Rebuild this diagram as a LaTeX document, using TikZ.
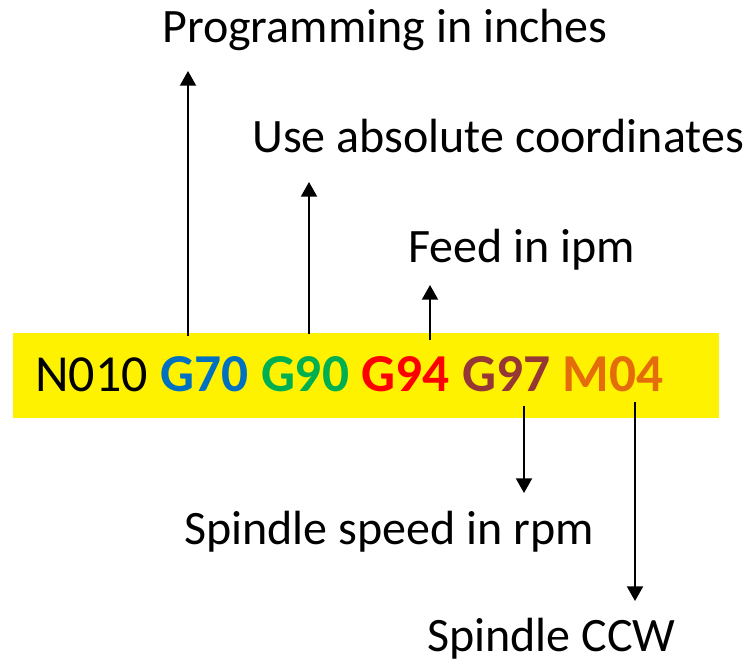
\documentclass[tikz,border=0pt]{standalone}
\usepackage{fontspec}
\setmainfont{Carlito}
\usetikzlibrary{positioning,arrows.meta}
\definecolor{codeblue}{RGB}{0,112,192}
\definecolor{codegreen}{RGB}{0,176,80}
\definecolor{codered}{RGB}{255,0,0}
\definecolor{codebrown}{RGB}{149,55,53}
\definecolor{codeorange}{RGB}{228,108,10}

\begin{document}
\begin{tikzpicture}[x=0.75pt,y=-0.75pt]
        % Define styles for words, notes and arrows
        \tikzset{
          note/.style={inner sep=0pt, anchor=base west, font=\fontsize{36}{42}\selectfont},
          word/.style={inner sep=0pt, font=\fontsize{40}{46}\selectfont\bfseries},
          arrow/.style={line width=1.5pt, -{Triangle[width=12pt,length=11pt]}}
        }
        \useasboundingbox (0,0) rectangle (755,662);

        % Yellow strip
        \fill[yellow] (13,333) rectangle (719,418);

        % Words of the block
        \node[word, font=\fontsize{39}{46}\selectfont\mdseries, anchor=base west] (n010) at (35,391) {N010};
        \node[word, text=codeblue, base right=9pt of n010] (g70) {G70};
        \node[word, text=codegreen, base right=9pt of g70] (g90) {G90};
        \node[word, text=codered, base right=9pt of g90] (g94) {G94};
        \node[word, text=codebrown, base right=9pt of g94] (g97) {G97};
        \node[word, text=codeorange, base right=9pt of g97] (m04) {M04};

        % Notes
        \node[note] (inches) at (162,42) {Programming in inches};
        \node[note] (absolute) at (252,152) {Use absolute coordinates};
        \node[note] (ipm) at (408,262) {Feed in ipm};
        \node[note] (rpm) at (184,544) {Spindle speed in rpm};
        \node[note] (ccw) at (427,651) {Spindle CCW};

        % Arrow ends
        \coordinate (tip70) at (188,71);
        \coordinate (tip90) at (309,182);
        \coordinate (tip94) at (430,285);
        \coordinate (tip97) at (524,493);
        \coordinate (tip04) at (635,601);

        % Arrows
        \draw[arrow] (g70.north -| tip70) ++(0,-20) -- (tip70);
        \draw[arrow] (g90.north -| tip90) ++(0,-22) -- (tip90);
        \draw[arrow] (g94.north -| tip94) ++(0,-16) -- (tip94);
        \draw[arrow] (g97.south -| tip97) ++(0,14) -- (tip97);
        \draw[arrow] (m04.south -| tip04) ++(0,10) -- (tip04);
\end{tikzpicture}
\end{document}
